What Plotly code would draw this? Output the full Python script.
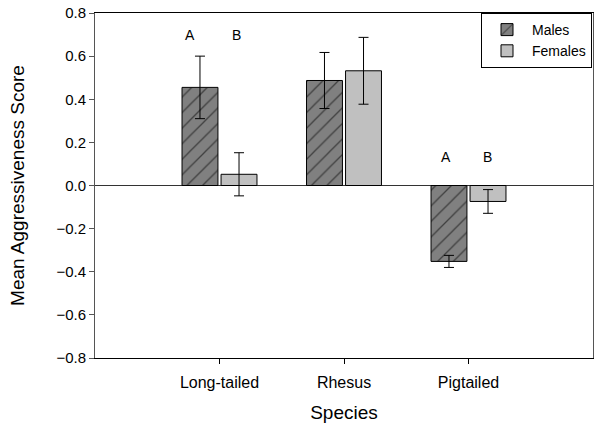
import plotly.graph_objects as go

species = ["Long-tailed", "Rhesus", "Pigtailed"]
males = [0.455, 0.487, -0.352]
males_err = [0.145, 0.13, 0.028]
females = [0.052, 0.532, -0.074]
females_err = [0.1, 0.155, 0.055]
y_ticks = [-0.8, -0.6, -0.4, -0.2, 0.0, 0.2, 0.4, 0.6, 0.8]

# significance letters: (category index, offset, y, text)
letters_x = [0, 0, 2, 2]
letters_off = [-0.24, 0.14, -0.18, 0.15]
letters_y = [0.70, 0.70, 0.13, 0.13]
letters_text = ["A", "B", "A", "B"]

font = "Liberation Sans, Arial, sans-serif"

fig = go.Figure()
fig.add_trace(go.Bar(
    x=species, y=males, name="Males",
    marker=dict(color="#808080", line=dict(color="black", width=1),
                pattern=dict(shape="/", fgcolor="black", bgcolor="#808080", size=11, solidity=0.12)),
    error_y=dict(type="data", array=males_err, color="black", thickness=1, width=5),
))
fig.add_trace(go.Bar(
    x=species, y=females, name="Females",
    marker=dict(color="#c0c0c0", line=dict(color="black", width=1)),
    error_y=dict(type="data", array=females_err, color="black", thickness=1, width=5),
))

for xi, off, yv, t in zip(letters_x, letters_off, letters_y, letters_text):
    fig.add_annotation(x=xi + off, y=yv, text=t, showarrow=False, xref="x", yref="y",
                       font=dict(size=14, color="black", family=font))

fig.update_layout(
    width=600, height=428,
    margin=dict(l=95, r=7, t=13, b=70),
    paper_bgcolor="white", plot_bgcolor="white",
    barmode="group", bargap=0.373, bargroupgap=0.08,
    font=dict(family=font, color="black"),
    legend=dict(x=0.998, y=1.0, xanchor="right", yanchor="top",
                bordercolor="black", borderwidth=1, bgcolor="white",
                font=dict(size=14, family=font), traceorder="normal",
                itemwidth=40, tracegroupgap=0),
    xaxis=dict(range=[-1, 3], type="category", showline=True, linecolor="black", linewidth=1,
               mirror=True, ticks="outside", ticklen=5, tickcolor="black",
               tickfont=dict(size=16), showgrid=False, zeroline=False, automargin=False,
               ticklabelstandoff=5,
               title=dict(text="Species", font=dict(size=19), standoff=15)),
    yaxis=dict(range=[-0.8, 0.8], tickvals=y_ticks, tickformat=".1f",
               showline=True, linecolor="#555555", linewidth=1, mirror=True,
               ticks="outside", ticklen=5, tickcolor="#555555",
               tickfont=dict(size=15), showgrid=False, automargin=False,
               zeroline=True, zerolinecolor="#333333", zerolinewidth=1,
               title=dict(text="Mean Aggressiveness Score", font=dict(size=19), standoff=26)),
)

fig.write_html("out.html", config={"displayModeBar": False},
               post_script="document.body.style.margin='0';")
